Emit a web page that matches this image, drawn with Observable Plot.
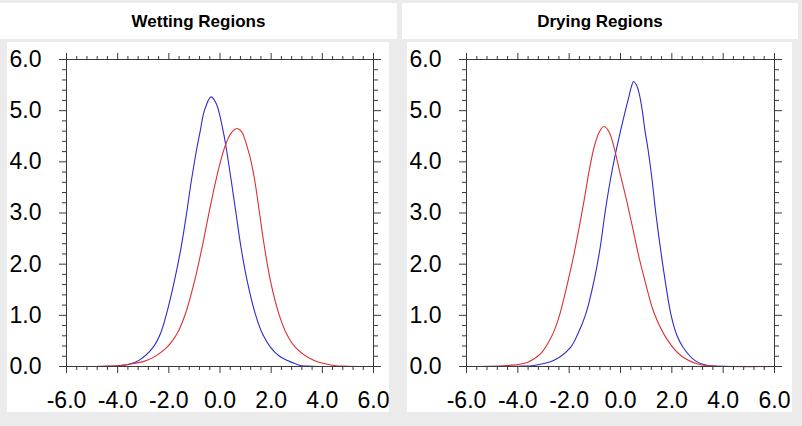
<!DOCTYPE html>
<html>
<head>
<meta charset="utf-8">
<script src="https://cdn.jsdelivr.net/npm/d3@7"></script>
<script src="https://cdn.jsdelivr.net/npm/@observablehq/plot@0.6"></script>
<style>
  html, body { margin: 0; padding: 0; }
  body { width: 802px; height: 426px; background: #ebebeb; position: relative; overflow: hidden;
         font-family: "Liberation Sans", Arial, Helvetica, sans-serif; }
  .hdr { position: absolute; background: #fff; text-align: center; font-weight: bold;
         font-size: 17px; line-height: 37px; color: #000; }
  .cell { position: absolute; background: #fff; }
  .cell svg { display: block; }
</style>
</head>
<body>
<div class="hdr" style="left:0;top:3px;width:397px;height:36px;">Wetting Regions</div>
<div class="hdr" style="left:402px;top:3px;width:396px;height:36px;">Drying Regions</div>
<div class="cell" id="left" style="left:7px;top:42px;width:382px;height:370px;"></div>
<div class="cell" id="right" style="left:407px;top:42px;width:385px;height:370px;"></div>
<script>
// ---- data ----
const wetBlueX = [-6, -4.5, -4.0, -3.6, -3.17, -2.61, -2.33, -2.09, -1.78, -1.52, -1.31, -1.12, -0.90, -0.77, -0.61, -0.35, -0.14, 0.12, 0.24, 0.44, 0.63, 0.82, 1.06, 1.38, 1.66, 1.97, 2.30, 2.62, 3.14, 3.6, 6];
const wetBlueY = [0, 0.005, 0.015, 0.04, 0.12, 0.38, 0.64, 1.03, 1.68, 2.33, 2.98, 3.63, 4.28, 4.61, 5.0, 5.27, 5.13, 4.61, 4.28, 3.63, 2.98, 2.33, 1.68, 1.03, 0.64, 0.38, 0.21, 0.12, 0.02, 0.005, 0];

const wetRedX = [-6, -4.5, -3.89, -2.85, -2.07, -1.68, -1.35, -0.99, -0.70, -0.44, -0.20, 0.0, 0.18, 0.36, 0.52, 0.67, 0.86, 0.99, 1.12, 1.21, 1.36, 1.55, 1.74, 1.97, 2.30, 2.60, 2.94, 3.66, 4.44, 5.0, 6];
const wetRedY = [0, 0.005, 0.02, 0.12, 0.38, 0.64, 1.03, 1.68, 2.33, 2.98, 3.55, 3.97, 4.28, 4.50, 4.61, 4.65, 4.58, 4.41, 4.19, 4.02, 3.63, 2.98, 2.33, 1.68, 1.03, 0.64, 0.38, 0.12, 0.02, 0.005, 0];

const dryBlueX = [-6, -4.0, -3.37, -2.59, -1.94, -1.66, -1.35, -1.03, -0.79, -0.61, -0.40, -0.20, 0.0, 0.18, 0.34, 0.42, 0.51, 0.62, 0.73, 0.85, 0.95, 1.07, 1.23, 1.38, 1.55, 1.74, 1.96, 2.19, 2.43, 2.89, 3.40, 4.0, 6];
const dryBlueY = [0, 0.005, 0.02, 0.12, 0.38, 0.64, 1.03, 1.68, 2.33, 2.98, 3.63, 4.15, 4.60, 4.98, 5.30, 5.46, 5.57, 5.50, 5.33, 5.0, 4.62, 4.25, 3.65, 2.98, 2.33, 1.68, 1.03, 0.62, 0.38, 0.12, 0.02, 0.005, 0];

const dryRedX = [-6, -5.06, -4.41, -3.63, -3.11, -2.72, -2.52, -2.36, -2.04, -1.81, -1.61, -1.42, -1.22, -1.03, -0.83, -0.64, -0.44, -0.22, -0.01, 0.24, 0.47, 0.69, 0.95, 1.32, 1.84, 2.36, 3.01, 3.66, 6];
const dryRedY = [0, 0.003, 0.02, 0.08, 0.25, 0.55, 0.78, 1.03, 1.68, 2.20, 2.72, 3.24, 3.83, 4.28, 4.58, 4.69, 4.58, 4.22, 3.76, 3.24, 2.72, 2.20, 1.68, 1.03, 0.51, 0.21, 0.05, 0.01, 0];

const xMajor = [-6, -4, -2, 0, 2, 4, 6];
const yMajor = [0, 1, 2, 3, 4, 5, 6];
const xMinor = d3.range(-6, 6.0001, 0.4).map(v => +v.toFixed(1)).filter(v => !xMajor.includes(v));
const yMinor = d3.range(0, 6.0001, 0.2).map(v => +v.toFixed(1)).filter(v => !yMajor.includes(v));

const blueColor = "#2b2bd0";
const redColor = "#dd3030";
const axisColor = "#3a3a3a";

function toRows(xs, ys) { return xs.map((x, i) => ({x, y: ys[i]})); }
const fmt = d => d.toFixed(1);
const none = () => "";

function panel(blue, red, width, marginRight) {
  const ff = "'Liberation Sans', Arial, Helvetica, sans-serif";
  return Plot.plot({
    width, height: 370,
    marginLeft: 59, marginRight, marginTop: 17, marginBottom: 46,
    x: {domain: [-6, 6]},
    y: {domain: [0, 6]},
    style: {background: "white", color: "#000", fontFamily: ff, overflow: "visible"},
    marks: [
      Plot.line(blue, {x: "x", y: "y", stroke: blueColor, strokeWidth: 1.1, curve: "catmull-rom"}),
      Plot.line(red, {x: "x", y: "y", stroke: redColor, strokeWidth: 1.1, curve: "catmull-rom"}),
      Plot.frame({stroke: axisColor, strokeWidth: 1}),
      Plot.axisX(xMajor, {anchor: "bottom", tickSize: 7, tickPadding: 18, tickFormat: fmt, fontSize: 23, label: null, stroke: axisColor, fontFamily: ff}),
      Plot.axisX(xMinor, {anchor: "bottom", tickSize: 4, tickFormat: none, label: null, stroke: axisColor}),
      Plot.axisX(xMajor, {anchor: "top", tickSize: 7, tickFormat: none, label: null, stroke: axisColor}),
      Plot.axisX(xMinor, {anchor: "top", tickSize: 4, tickFormat: none, label: null, stroke: axisColor}),
      Plot.axisY(yMajor, {anchor: "left", tickSize: 7, tickPadding: 18, tickFormat: fmt, fontSize: 23, label: null, stroke: axisColor, fontFamily: ff}),
      Plot.axisY(yMinor, {anchor: "left", tickSize: 4, tickFormat: none, label: null, stroke: axisColor}),
      Plot.axisY(yMajor, {anchor: "right", tickSize: 7, tickFormat: none, label: null, stroke: axisColor}),
      Plot.axisY(yMinor, {anchor: "right", tickSize: 4, tickFormat: none, label: null, stroke: axisColor})
    ]
  });
}

document.getElementById("left").append(panel(toRows(wetBlueX, wetBlueY), toRows(wetRedX, wetRedY), 382, 16));
document.getElementById("right").append(panel(toRows(dryBlueX, dryBlueY), toRows(dryRedX, dryRedY), 385, 18));
</script>
</body>
</html>
